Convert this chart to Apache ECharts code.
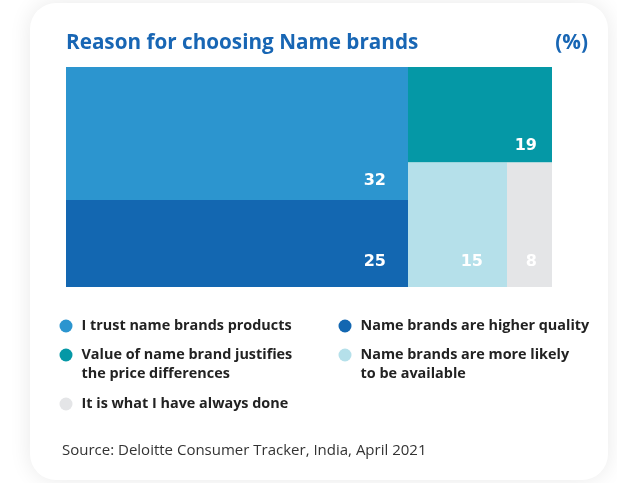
<!DOCTYPE html>
<html>
<head>
<meta charset="utf-8">
<script src="https://cdn.jsdelivr.net/npm/echarts@6/dist/echarts.min.js"></script>
<style>
  html, body { margin: 0; padding: 0; background: #ffffff; }
  #card { position: absolute; left: 30px; top: 3px; width: 578px; height: 477px;
          background: #fff; border-radius: 26px; box-shadow: 0 0 22px rgba(0,0,0,0.09); }
  #chart { position: absolute; left: 0; top: 0; width: 617px; height: 483px; }
</style>
</head>
<body>
<div id="card"></div>
<div id="chart"></div>
<script>
// ---- data ----
const categories = [
  'I trust name brands products',
  'Name brands are higher quality',
  'Value of name brand justifies the price differences',
  'Name brands are more likely to be available',
  'It is what I have always done'
];
const values = [32, 25, 19, 15, 8];
const legendLines = [
  ['I trust name brands products'],
  ['Name brands are higher quality'],
  ['Value of name brand justifies', 'the price differences'],
  ['Name brands are more likely', 'to be available'],
  ['It is what I have always done']
];
const titleText = 'Reason for choosing Name brands';
const unitText = '(%)';
const sourceText = 'Source: Deloitte Consumer Tracker, India, April 2021';

// ---- styles / layout (not data) ----
const colors = ['#2c95cf', '#1367b1', '#0598a6', '#b5e0ea', '#e4e5e7'];
// cell extents on a 0..100 x 0..100 layout plane: [x0, x1, y0, y1], label padding [right, bottom] px
const cellLayout = [
  { box: [0, 70.37, 39.5, 100], pad: [22, 19] },
  { box: [0, 70.37, 0, 39.5], pad: [22, 25] },
  { box: [70.37, 100, 56.6, 100], pad: [15, 17] },
  { box: [70.37, 90.74, 0, 56.6], pad: [24, 25] },
  { box: [90.74, 100, 0, 56.6], pad: [15, 25] }
];
const legendPos = [
  { left: 59.5, cy: 326 },
  { left: 338.5, cy: 326 },
  { left: 59.5, cy: 355 },
  { left: 338.5, cy: 355 },
  { left: 59.5, cy: 404 }
];
const FONT = '"Open Sans"';

const measureCtx = document.createElement('canvas').getContext('2d');
function fitSize(text, weight, targetWidth) {
  measureCtx.font = weight + ' 100px ' + FONT;
  const w = measureCtx.measureText(text).width;
  return Math.round(100 * targetWidth / w * 10) / 10;
}
const titleSize = fitSize(titleText, 'bold', 352);
const legendSize = fitSize(legendLines[0][0], 'bold', 210);
const sourceSize = fitSize(sourceText, 'normal', 365);

const chart = echarts.init(document.getElementById('chart'), null, { renderer: 'canvas' });

function renderCell(params, api) {
  const i = api.value(0);
  const v = api.value(1);
  const b = cellLayout[i].box;
  const p = cellLayout[i].pad;
  const tl = api.coord([b[0], b[3]]);
  const br = api.coord([b[1], b[2]]);
  return {
    type: 'group',
    children: [
      { type: 'rect', shape: { x: tl[0], y: tl[1], width: br[0] - tl[0], height: br[1] - tl[1] },
        style: { fill: api.visual('color') } },
      { type: 'text',
        style: { text: String(v), x: br[0] - p[0], y: br[1] - p[1],
                 align: 'right', verticalAlign: 'middle',
                 fill: '#ffffff', font: 'bold 16px "DejaVu Sans"' } }
    ]
  };
}

const series = categories.map((name, i) => ({
  type: 'custom',
  name: name,
  coordinateSystem: 'cartesian2d',
  renderItem: renderCell,
  itemStyle: { color: colors[i] },
  encode: { x: 0, y: 1 },
  data: [[i, values[i]]],
  silent: true
}));

const LH = 19;
const legends = categories.map((name, i) => {
  const lines = legendLines[i];
  // for two-line entries prepend an empty line so the first line sits on the marker
  const txt = lines.length > 1 ? '\n' + lines.join('\n') : lines[0];
  const nLines = lines.length > 1 ? 3 : 1;
  return {
    data: [name],
    left: legendPos[i].left,
    top: legendPos[i].cy - nLines * LH / 2,
    padding: 0,
    icon: 'circle',
    itemWidth: 13,
    itemHeight: 13,
    selectedMode: false,
    formatter: () => txt,
    textStyle: {
      fontFamily: FONT, fontWeight: 'bold', fontSize: legendSize, color: '#222222',
      lineHeight: LH, padding: [0, 0, 0, 4]
    }
  };
});

chart.setOption({
  animation: false,
  backgroundColor: 'transparent',
  title: [
    { text: titleText, left: 66, top: 31, padding: 0,
      textStyle: { fontFamily: FONT, fontWeight: 'bold', fontSize: titleSize, lineHeight: 24, color: '#1866b4' } },
    { text: unitText, right: 29, top: 31, padding: 0,
      textStyle: { fontFamily: FONT, fontWeight: 'bold', fontSize: titleSize, lineHeight: 24, color: '#1866b4' } },
    { text: sourceText, left: 62, top: 442, padding: 0,
      textStyle: { fontFamily: FONT, fontWeight: 'normal', fontSize: sourceSize, lineHeight: 18, color: '#333333' } }
  ],
  legend: legends,
  grid: { left: 66, right: 65, top: 67, bottom: 196, containLabel: false },
  xAxis: { type: 'value', min: 0, max: 100, show: false },
  yAxis: { type: 'value', min: 0, max: 100, show: false },
  series: series
});
</script>
</body>
</html>
